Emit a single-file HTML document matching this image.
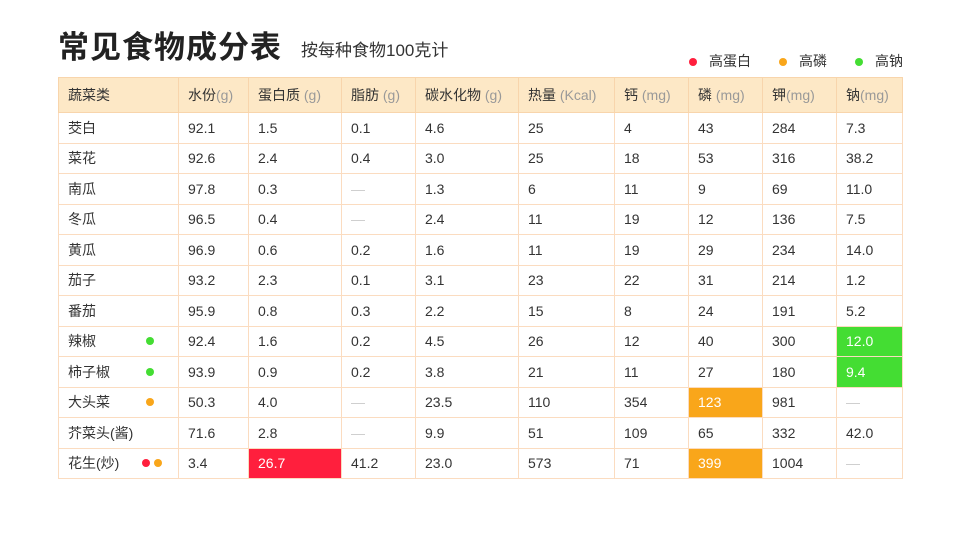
<!DOCTYPE html>
<html><head><meta charset="utf-8">
<style>
body{margin:0;width:960px;height:540px;background:#fff;font-family:"Liberation Sans","Noto Sans CJK SC",sans-serif;color:#333;position:relative;overflow:hidden}
.title{position:absolute;left:58px;top:22px;font-size:31px;font-weight:bold;color:#222;letter-spacing:1px}
.sub{position:absolute;left:301px;top:36px;font-size:17px;color:#333}
.legend{position:absolute;top:51px;font-size:14px;color:#333}
.dot{display:inline-block;width:8px;height:8px;border-radius:50%;margin-right:12px;vertical-align:middle}
table{position:absolute;left:58px;top:77px;border-collapse:collapse;table-layout:fixed;font-size:14px}
td{border:1px solid #fbdcc0;height:29.5px;padding:0 0 0 9px;white-space:nowrap}
tr.h td{background:#fde8c6;height:34px;border-color:#f8d5ac}
.u{color:#999}
.na{color:#ccc}
.r{background:#ff1f3d;color:#fff}.o{background:#f9a61a;color:#fff}.g{background:#44dd33;color:#fff}
.w{position:relative}
.m{position:absolute;left:78px;top:50%;transform:translateY(-50%);line-height:0}
.m span{display:inline-block;width:8px;height:8px;border-radius:50%;margin-right:4px}
</style></head><body>
<div class="title">常见食物成分表</div>
<div class="sub">按每种食物100克计</div>
<div class="legend" style="left:689px"><span class="dot" style="background:#ff1f3d"></span>高蛋白</div>
<div class="legend" style="left:779px"><span class="dot" style="background:#f9a61a"></span>高磷</div>
<div class="legend" style="left:855px"><span class="dot" style="background:#44dd33"></span>高钠</div>
<table>
<colgroup><col style="width:120px"><col style="width:70px"><col style="width:93px"><col style="width:74px"><col style="width:103px"><col style="width:96px"><col style="width:74px"><col style="width:74px"><col style="width:74px"><col style="width:66px"></colgroup>
<tr class="h"><td>蔬菜类</td><td>水份<span class="u">(g)</span></td><td>蛋白质 <span class="u">(g)</span></td><td>脂肪 <span class="u">(g)</span></td><td>碳水化物 <span class="u">(g)</span></td><td>热量 <span class="u">(Kcal)</span></td><td>钙 <span class="u">(mg)</span></td><td>磷 <span class="u">(mg)</span></td><td>钾<span class="u">(mg)</span></td><td>钠<span class="u">(mg)</span></td></tr>
<tr><td>茭白</td><td>92.1</td><td>1.5</td><td>0.1</td><td>4.6</td><td>25</td><td>4</td><td>43</td><td>284</td><td>7.3</td></tr>
<tr><td>菜花</td><td>92.6</td><td>2.4</td><td>0.4</td><td>3.0</td><td>25</td><td>18</td><td>53</td><td>316</td><td>38.2</td></tr>
<tr><td>南瓜</td><td>97.8</td><td>0.3</td><td class="na">—</td><td>1.3</td><td>6</td><td>11</td><td>9</td><td>69</td><td>11.0</td></tr>
<tr><td>冬瓜</td><td>96.5</td><td>0.4</td><td class="na">—</td><td>2.4</td><td>11</td><td>19</td><td>12</td><td>136</td><td>7.5</td></tr>
<tr><td>黄瓜</td><td>96.9</td><td>0.6</td><td>0.2</td><td>1.6</td><td>11</td><td>19</td><td>29</td><td>234</td><td>14.0</td></tr>
<tr><td>茄子</td><td>93.2</td><td>2.3</td><td>0.1</td><td>3.1</td><td>23</td><td>22</td><td>31</td><td>214</td><td>1.2</td></tr>
<tr><td>番茄</td><td>95.9</td><td>0.8</td><td>0.3</td><td>2.2</td><td>15</td><td>8</td><td>24</td><td>191</td><td>5.2</td></tr>
<tr><td><div class="w">辣椒<div class="m"><span style="background:#44dd33"></span></div></div></td><td>92.4</td><td>1.6</td><td>0.2</td><td>4.5</td><td>26</td><td>12</td><td>40</td><td>300</td><td class="g">12.0</td></tr>
<tr><td><div class="w">柿子椒<div class="m"><span style="background:#44dd33"></span></div></div></td><td>93.9</td><td>0.9</td><td>0.2</td><td>3.8</td><td>21</td><td>11</td><td>27</td><td>180</td><td class="g">9.4</td></tr>
<tr><td><div class="w">大头菜<div class="m"><span style="background:#f9a61a"></span></div></div></td><td>50.3</td><td>4.0</td><td class="na">—</td><td>23.5</td><td>110</td><td>354</td><td class="o">123</td><td>981</td><td class="na">—</td></tr>
<tr><td>芥菜头(酱)</td><td>71.6</td><td>2.8</td><td class="na">—</td><td>9.9</td><td>51</td><td>109</td><td>65</td><td>332</td><td>42.0</td></tr>
<tr><td><div class="w">花生(炒)<div class="m" style="left:74px"><span style="background:#ff1f3d"></span><span style="background:#f9a61a"></span></div></div></td><td>3.4</td><td class="r">26.7</td><td>41.2</td><td>23.0</td><td>573</td><td>71</td><td class="o">399</td><td>1004</td><td class="na">—</td></tr>
</table>
</body></html>
